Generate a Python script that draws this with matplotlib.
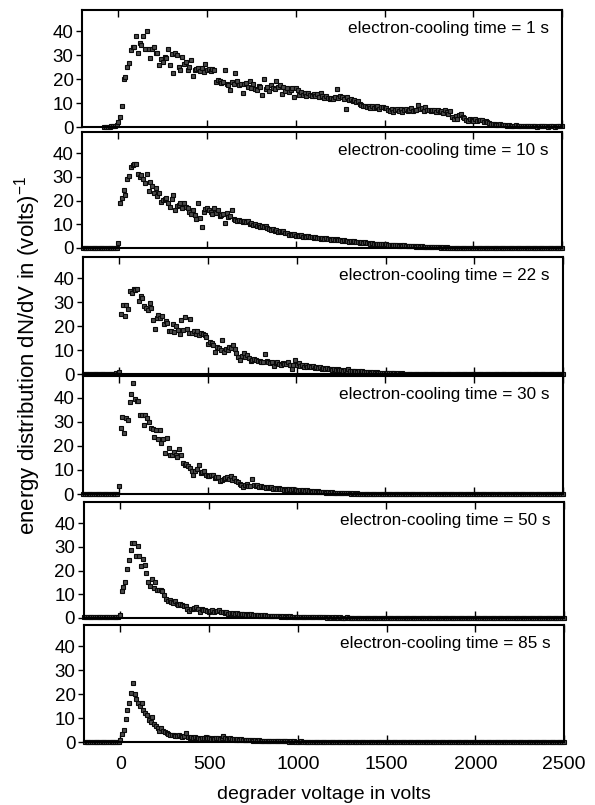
import numpy as np
import matplotlib
matplotlib.use("Agg")
import matplotlib.pyplot as plt

plt.rcParams['font.family'] = ['Liberation Sans', 'DejaVu Sans']
plt.rcParams['mathtext.fontset'] = 'custom'
plt.rcParams['mathtext.rm'] = 'Liberation Sans'
plt.rcParams['mathtext.it'] = 'Liberation Sans:italic'

# degrader voltage scan, 10 V steps from -200 V to 2500 V
volts = np.arange(-200, 2501, 10)
nan = np.nan

cooling_times = [1, 10, 22, 30, 50, 85]

counts_1s = [
    nan, nan, nan, nan, nan, nan, nan, nan, nan, nan,
    nan, nan, 0.1, 0.1, 0.2, 0.2, 0.3, 0.3, 0.4, 0.8,
    2.1, 4.2, 8.8, 19.9, 21.0, 25.0, 26.7, 32.3, 33.7, 33.7,
    38.3, 30.9, 35.0, 34.4, 38.2, 32.6, 40.1, 32.6, 28.8, 32.6,
    33.4, 30.9, 30.9, 26.0, 28.4, 27.4, 29.2, 28.8, 32.6, 26.0,
    30.5, 22.7, 31.2, 30.2, 25.3, 23.9, 29.2, 26.5, 27.4, 23.9,
    25.0, 28.0, 21.3, 23.9, 24.1, 24.5, 23.6, 24.8, 23.2, 26.4,
    23.8, 24.2, 23.5, 24.1, 24.0, 19.0, 19.5, 19.2, 18.4, 18.9,
    24.0, 18.2, 17.6, 15.4, 18.8, 17.9, 22.5, 19.2, 17.5, 18.1,
    14.3, 17.8, 18.6, 16.9, 19.2, 16.4, 17.8, 16.1, 15.5, 17.2,
    16.8, 13.6, 20.0, 15.9, 16.7, 15.2, 17.4, 16.3, 15.8, 19.2,
    16.9, 17.5, 14.0, 16.8, 15.1, 16.2, 14.6, 15.4, 16.4, 12.4,
    16.2, 15.7, 13.3, 14.5, 13.2, 14.1, 12.8, 14.3, 13.6, 12.9,
    14.0, 13.1, 13.7, 12.5, 14.2, 13.0, 12.1, 12.8, 12.0, 11.6,
    12.3, 11.8, 12.6, 15.9, 12.2, 12.9, 12.4, 11.6, 7.4, 12.5,
    11.2, 11.6, 10.8, 11.4, 10.5, 11.0, 9.8, 9.2, 8.7, 8.6,
    8.4, 8.9, 8.1, 8.6, 7.9, 8.3, 8.8, 7.6, 8.2, 8.5,
    7.8, 8.1, 7.2, 6.6, 7.4, 6.3, 7.0, 7.7, 6.8, 7.5,
    6.3, 7.1, 7.6, 6.9, 7.3, 7.8, 6.6, 7.2, 7.0, 9.4,
    7.4, 7.9, 6.9, 8.2, 7.1, 7.3, 6.5, 7.0, 7.2, 6.4,
    7.3, 6.2, 6.9, 5.8, 7.0, 6.3, 5.5, 6.8, 4.2, 3.5,
    4.6, 3.3, 4.9, 5.6, 4.1, 3.8, 3.0, 2.6, 3.4, 2.9,
    2.7, 3.2, 2.5, 2.9, 2.8, 3.1, 2.2, 2.6, 2.0, 1.6,
    1.2, 1.4, 1.1, 0.9, 1.0, 1.2, 0.8, 0.9, 0.7, 0.6,
    0.8, 0.5, 0.6, 0.4, 0.7, 0.5, 0.4, 0.6, 0.3, 0.5,
    0.4, 0.3, 0.5, 0.4, 0.3, 0.4, 0.2, 0.5, 0.3, 0.4,
    0.3, 0.4, 0.2, 0.3, 0.4, 0.3, 0.2, 0.4, 0.3, 0.3,
    0.3,
]

counts_10s = [
    0.0, 0.0, 0.0, 0.0, 0.0, 0.0, 0.0, 0.0, 0.0, 0.0,
    0.0, 0.0, 0.0, 0.0, 0.0, 0.0, 0.0, 0.0, 0.0, 0.0,
    2.1, 19.2, 21.0, 24.6, 22.5, 29.0, 30.5, 34.4, 35.1, 35.4,
    35.5, 31.3, 30.2, 30.9, 29.0, 27.4, 31.3, 23.9, 28.0, 26.2,
    23.4, 25.3, 21.8, 23.4, 19.6, 20.4, 20.6, 21.0, 18.9, 17.3,
    20.6, 22.5, 16.1, 17.8, 18.2, 18.9, 17.0, 19.2, 17.5, 16.8,
    15.4, 14.5, 16.1, 13.8, 12.2, 18.9, 12.6, 8.8, 15.0, 16.4,
    16.8, 15.9, 15.4, 14.5, 16.8, 14.7, 16.1, 13.6, 14.0, 14.5,
    10.5, 14.7, 13.2, 13.6, 16.1, 12.4, 11.8, 11.2, 12.0, 11.4,
    10.9, 11.6, 10.8, 11.3, 10.2, 10.4, 9.6, 10.1, 9.2, 9.8,
    9.0, 9.5, 8.8, 9.3, 8.6, 8.1, 7.6, 7.9, 7.1, 7.5,
    6.9, 7.3, 6.8, 7.0, 6.5, 6.2, 5.6, 6.0, 5.3, 5.8,
    5.1, 5.6, 5.0, 5.4, 4.8, 5.2, 4.7, 5.0, 4.5, 4.8,
    4.3, 4.6, 4.1, 4.4, 3.9, 4.3, 3.8, 4.1, 3.6, 4.0,
    3.5, 3.8, 3.3, 3.7, 3.2, 3.5, 3.0, 3.3, 2.9, 3.1,
    2.7, 3.0, 2.6, 2.8, 2.4, 2.7, 2.3, 2.5, 2.1, 2.4,
    2.0, 2.2, 1.9, 2.1, 1.8, 1.9, 1.6, 1.8, 1.5, 1.7,
    1.4, 1.5, 1.3, 1.4, 1.2, 1.3, 1.1, 1.2, 1.0, 1.2,
    0.9, 1.1, 0.9, 1.0, 0.8, 0.9, 0.7, 0.8, 0.6, 0.8,
    0.6, 0.7, 0.5, 0.6, 0.5, 0.5, 0.4, 0.5, 0.3, 0.4,
    0.3, 0.4, 0.2, 0.3, 0.2, 0.3, 0.2, 0.2, 0.1, 0.2,
    0.1, 0.1, 0.1, 0.2, 0.1, 0.1, 0.1, 0.1, 0.0, 0.1,
    0.1, 0.0, 0.1, 0.1, 0.0, 0.1, 0.0, 0.1, 0.0, 0.0,
    0.1, 0.0, 0.0, 0.1, 0.0, 0.0, 0.1, 0.0, 0.0, 0.0,
    0.0, 0.1, 0.0, 0.0, 0.0, 0.1, 0.0, 0.0, 0.0, 0.0,
    0.0, 0.0, 0.0, 0.1, 0.0, 0.0, 0.0, 0.0, 0.0, 0.0,
    0.0, 0.0, 0.0, 0.0, 0.0, 0.0, 0.1, 0.0, 0.0, 0.0,
    0.0,
]

counts_22s = [
    0.2, 0.1, 0.2, 0.2, 0.1, 0.2, 0.2, 0.1, 0.2, 0.2,
    0.2, 0.1, 0.2, 0.2, 0.1, 0.2, 0.2, 0.2, 0.3, 0.3,
    1.0, 25.3, 29.0, 24.1, 29.0, 27.4, 34.9, 34.0, 35.4, 35.1,
    35.4, 30.7, 32.8, 31.9, 28.4, 27.6, 26.9, 29.8, 27.6, 22.7,
    18.9, 23.4, 24.8, 23.4, 24.4, 20.9, 22.0, 21.3, 17.8, 18.1,
    20.9, 17.4, 19.9, 18.6, 16.7, 22.5, 18.5, 23.7, 18.9, 17.1,
    23.2, 17.0, 18.1, 16.9, 17.8, 16.4, 17.1, 16.6, 16.4, 15.3,
    12.5, 13.6, 13.0, 12.2, 9.4, 11.5, 11.0, 10.1, 14.3, 9.4,
    10.6, 10.1, 11.1, 10.8, 12.2, 10.5, 9.0, 7.3, 5.9, 7.5,
    8.7, 7.2, 8.0, 6.6, 5.5, 6.0, 6.3, 5.8, 5.5, 5.6,
    4.9, 5.1, 8.4, 5.4, 4.9, 4.6, 5.0, 3.4, 4.4, 5.2,
    4.2, 3.9, 4.5, 4.0, 4.3, 4.9, 3.8, 2.0, 3.7, 5.9,
    3.9, 4.5, 3.4, 3.8, 3.1, 3.6, 2.9, 3.3, 2.8, 3.2,
    2.5, 2.9, 2.4, 2.8, 2.2, 2.6, 2.0, 2.4, 1.9, 2.3,
    1.8, 2.1, 1.7, 2.0, 1.5, 1.8, 1.4, 1.7, 1.3, 2.2,
    1.2, 1.4, 1.1, 1.3, 1.0, 1.2, 0.9, 1.1, 0.8, 1.0,
    0.7, 0.9, 0.6, 0.8, 0.5, 0.7, 0.5, 0.6, 0.4, 0.5,
    0.4, 0.5, 0.3, 0.4, 0.3, 0.4, 0.2, 0.3, 0.2, 0.3,
    0.2, 0.2, 0.1, 0.2, 0.1, 0.2, 0.1, 0.1, 0.1, 0.1,
    0.1, 0.1, 0.0, 0.1, 0.1, 0.0, 0.1, 0.0, 0.1, 0.0,
    0.1, 0.0, 0.0, 0.1, 0.0, 0.0, 0.1, 0.0, 0.0, 0.0,
    0.0, 0.1, 0.0, 0.0, 0.0, 0.1, 0.0, 0.0, 0.0, 0.0,
    0.0, 0.0, 0.0, 0.1, 0.0, 0.0, 0.0, 0.0, 0.0, 0.0,
    0.0, 0.0, 0.0, 0.0, 0.0, 0.0, 0.0, 0.0, 0.0, 0.0,
    0.0, 0.0, 0.0, 0.0, 0.0, 0.0, 0.0, 0.0, 0.0, 0.0,
    0.0, 0.0, 0.0, 0.0, 0.0, 0.0, 0.0, 0.0, 0.0, 0.0,
    0.0, 0.0, 0.0, 0.0, 0.0, 0.0, 0.0, 0.0, 0.0, 0.0,
    0.0,
]

counts_30s = [
    0.0, 0.0, 0.0, 0.0, 0.0, 0.0, 0.0, 0.0, 0.0, 0.0,
    0.0, 0.0, 0.0, 0.0, 0.0, 0.0, 0.0, 0.0, 0.0, 0.0,
    3.4, 27.4, 32.1, 25.3, 31.4, 30.9, 38.2, 41.7, 46.2, 39.6,
    38.6, 38.6, 32.8, 32.6, 28.8, 32.6, 31.4, 29.8, 27.6, 26.9,
    23.7, 26.5, 23.0, 26.5, 21.0, 22.7, 17.1, 23.4, 19.2, 16.4,
    16.0, 17.4, 16.4, 15.3, 18.8, 16.0, 12.9, 11.9, 12.3, 11.5,
    10.8, 9.6, 8.0, 9.7, 10.4, 11.9, 8.7, 9.0, 9.4, 8.0,
    7.6, 7.3, 7.7, 8.0, 6.6, 7.1, 6.9, 5.5, 6.0, 6.2,
    6.6, 7.0, 6.4, 7.3, 6.0, 6.6, 5.4, 4.8, 4.3, 3.8,
    3.1, 3.6, 4.1, 3.5, 3.3, 6.3, 3.8, 3.2, 3.6, 2.9,
    3.3, 2.7, 3.1, 2.5, 2.9, 2.3, 2.7, 2.1, 2.5, 2.0,
    2.4, 1.9, 2.2, 1.8, 2.1, 1.7, 2.0, 1.6, 1.9, 1.5,
    1.8, 1.4, 1.7, 1.3, 1.6, 1.2, 1.5, 1.1, 1.4, 1.0,
    1.3, 0.9, 1.2, 0.8, 1.0, 0.7, 0.9, 0.6, 0.8, 0.6,
    0.7, 0.5, 0.6, 0.4, 0.5, 0.4, 0.5, 0.3, 0.4, 0.3,
    0.4, 0.2, 0.3, 0.2, 0.3, 0.2, 0.2, 0.1, 0.2, 0.1,
    0.1, 0.1, 0.1, 0.0, 0.1, 0.1, 0.0, 0.1, 0.0, 0.1,
    0.0, 0.1, 0.0, 0.0, 0.1, 0.0, 0.0, 0.0, 0.1, 0.0,
    0.0, 0.0, 0.0, 0.0, 0.0, 0.1, 0.0, 0.0, 0.0, 0.0,
    0.0, 0.0, 0.0, 0.0, 0.0, 0.0, 0.0, 0.0, 0.0, 0.0,
    0.0, 0.0, 0.0, 0.0, 0.0, 0.0, 0.0, 0.0, 0.0, 0.0,
    0.0, 0.0, 0.0, 0.0, 0.0, 0.0, 0.0, 0.0, 0.0, 0.0,
    0.0, 0.0, 0.0, 0.0, 0.0, 0.0, 0.0, 0.0, 0.0, 0.0,
    0.0, 0.0, 0.0, 0.0, 0.0, 0.0, 0.0, 0.0, 0.0, 0.0,
    0.0, 0.0, 0.0, 0.0, 0.0, 0.0, 0.0, 0.0, 0.0, 0.0,
    0.0, 0.0, 0.0, 0.0, 0.0, 0.0, 0.0, 0.0, 0.0, 0.0,
    0.0, 0.0, 0.0, 0.0, 0.0, 0.0, 0.0, 0.0, 0.0, 0.0,
    0.0,
]

counts_50s = [
    0.3, 0.4, 0.3, 0.4, 0.3, 0.4, 0.3, 0.4, 0.3, 0.4,
    0.3, 0.4, 0.3, 0.4, 0.3, 0.4, 0.3, 0.4, 0.3, 0.4,
    1.1, 11.2, 13.0, 15.0, 20.8, 24.6, 28.8, 31.6, 31.6, 26.2,
    30.5, 26.0, 22.0, 24.8, 22.5, 18.9, 15.4, 13.6, 16.4, 12.6,
    15.0, 11.9, 11.9, 11.9, 11.2, 9.8, 8.0, 7.0, 7.7, 6.9,
    6.3, 7.0, 6.1, 5.6, 6.0, 5.5, 5.2, 4.9, 4.0, 3.1,
    3.8, 4.0, 4.2, 4.6, 3.6, 2.5, 3.8, 3.3, 3.5, 3.0,
    2.4, 3.0, 3.5, 2.7, 2.8, 3.1, 3.5, 2.4, 2.7, 2.1,
    2.5, 1.9, 2.3, 1.8, 2.2, 1.7, 2.1, 1.6, 1.9, 1.5,
    1.8, 1.4, 1.7, 1.3, 1.6, 1.2, 1.4, 1.1, 1.3, 1.0,
    1.2, 0.9, 1.1, 0.8, 1.0, 0.8, 0.9, 0.7, 0.9, 0.7,
    0.8, 0.6, 0.8, 0.6, 0.7, 0.5, 0.7, 0.5, 0.6, 0.5,
    0.6, 0.4, 0.5, 0.4, 0.5, 0.4, 0.5, 0.3, 0.4, 0.3,
    0.4, 0.3, 0.4, 0.3, 0.3, 0.3, 0.4, 0.2, 0.3, 0.2,
    0.3, 0.2, 0.3, 0.2, 0.3, 0.2, 0.2, 0.2, 0.3, 0.2,
    0.2, 0.2, 0.2, 0.1, 0.2, 0.2, 0.1, 0.2, 0.1, 0.2,
    0.1, 0.2, 0.1, 0.1, 0.2, 0.1, 0.1, 0.1, 0.2, 0.1,
    0.1, 0.1, 0.1, 0.1, 0.1, 0.2, 0.1, 0.1, 0.1, 0.1,
    0.1, 0.1, 0.1, 0.1, 0.1, 0.1, 0.1, 0.1, 0.1, 0.1,
    0.1, 0.1, 0.1, 0.1, 0.1, 0.1, 0.1, 0.1, 0.1, 0.1,
    0.1, 0.1, 0.1, 0.1, 0.1, 0.1, 0.1, 0.1, 0.1, 0.1,
    0.1, 0.1, 0.1, 0.1, 0.1, 0.1, 0.1, 0.1, 0.1, 0.1,
    0.1, 0.1, 0.1, 0.1, 0.1, 0.1, 0.1, 0.1, 0.1, 0.1,
    0.1, 0.1, 0.1, 0.1, 0.1, 0.1, 0.1, 0.1, 0.1, 0.1,
    0.1, 0.1, 0.1, 0.1, 0.1, 0.1, 0.1, 0.1, 0.1, 0.1,
    0.1, 0.1, 0.1, 0.1, 0.1, 0.1, 0.1, 0.1, 0.1, 0.1,
    0.1, 0.1, 0.1, 0.1, 0.1, 0.1, 0.1, 0.1, 0.1, 0.1,
    0.1,
]

counts_85s = [
    0.2, 0.1, 0.2, 0.2, 0.1, 0.2, 0.2, 0.1, 0.2, 0.2,
    0.2, 0.1, 0.2, 0.2, 0.1, 0.2, 0.2, 0.1, 0.2, 0.2,
    1.0, 3.4, 5.2, 9.7, 13.6, 16.4, 20.6, 24.8, 20.2, 17.8,
    16.4, 15.0, 16.4, 13.6, 12.2, 11.5, 9.4, 8.4, 10.4, 7.6,
    6.6, 6.0, 4.8, 5.9, 4.5, 4.2, 3.6, 3.4, 2.8, 3.0,
    3.1, 2.6, 2.4, 2.8, 2.6, 2.0, 2.7, 3.8, 2.2, 1.8,
    1.9, 1.6, 2.0, 1.5, 1.8, 1.4, 1.7, 1.6, 1.9, 1.5,
    1.7, 1.4, 1.6, 1.3, 1.5, 1.6, 1.4, 1.8, 2.4, 1.5,
    1.4, 1.2, 1.5, 1.1, 1.3, 1.0, 1.2, 0.9, 1.1, 0.8,
    1.0, 0.7, 0.9, 0.7, 0.8, 0.6, 0.8, 0.5, 0.7, 0.5,
    0.6, 0.4, 0.6, 0.4, 0.5, 0.4, 0.5, 0.3, 0.4, 0.3,
    0.4, 0.3, 0.4, 0.3, 0.3, 0.2, 0.3, 0.2, 0.3, 0.2,
    0.2, 0.2, 0.3, 0.2, 0.2, 0.1, 0.2, 0.2, 0.1, 0.2,
    0.2, 0.1, 0.2, 0.1, 0.1, 0.2, 0.1, 0.1, 0.2, 0.1,
    0.1, 0.1, 0.2, 0.1, 0.1, 0.1, 0.1, 0.2, 0.1, 0.1,
    0.1, 0.1, 0.1, 0.1, 0.1, 0.1, 0.1, 0.1, 0.1, 0.1,
    0.1, 0.1, 0.1, 0.1, 0.1, 0.1, 0.1, 0.1, 0.1, 0.1,
    0.1, 0.1, 0.1, 0.1, 0.1, 0.1, 0.1, 0.1, 0.1, 0.1,
    0.1, 0.1, 0.1, 0.1, 0.1, 0.1, 0.1, 0.1, 0.1, 0.1,
    0.1, 0.1, 0.1, 0.1, 0.1, 0.1, 0.1, 0.1, 0.1, 0.1,
    0.1, 0.1, 0.1, 0.1, 0.1, 0.1, 0.1, 0.1, 0.1, 0.1,
    0.1, 0.1, 0.1, 0.1, 0.1, 0.1, 0.1, 0.1, 0.1, 0.1,
    0.1, 0.1, 0.1, 0.1, 0.1, 0.1, 0.1, 0.1, 0.1, 0.1,
    0.1, 0.1, 0.1, 0.1, 0.1, 0.1, 0.1, 0.1, 0.1, 0.1,
    0.1, 0.1, 0.1, 0.1, 0.1, 0.1, 0.1, 0.1, 0.1, 0.1,
    0.1, 0.1, 0.1, 0.1, 0.1, 0.1, 0.1, 0.1, 0.1, 0.1,
    0.1, 0.1, 0.1, 0.1, 0.1, 0.1, 0.1, 0.1, 0.1, 0.1,
    0.1,
]

all_counts = [counts_1s, counts_10s, counts_22s, counts_30s, counts_50s, counts_85s]
for c in all_counts:
    if len(c) != len(volts):
        raise ValueError("length %d" % len(c))

# panel frames in pixels (the panels were pasted together, so they are a bit uneven)
W, H = 595, 805
tops = [10, 132, 257, 376, 502, 625]
bottoms = [127, 248, 374, 494, 618, 742]
lefts = [82, 82, 83, 82.5, 83.5, 84]
panel_w = 480

fig = plt.figure(figsize=(W / 100, H / 100), dpi=100)

axes = []
for i in range(6):
    ax = fig.add_axes([lefts[i] / W, 1 - bottoms[i] / H, panel_w / W, (bottoms[i] - tops[i]) / H])
    ax.plot(volts, all_counts[i], 's', ms=3.2, mfc='#4a4a4a', mec='#0a0a0a', mew=0.8, clip_on=False)
    ax.set_xlim(-205, 2500)
    ax.set_ylim(0, 49)
    ax.set_xticks([0, 500, 1000, 1500, 2000, 2500])
    ax.set_yticks([0, 10, 20, 30, 40])
    ax.tick_params(axis='x', direction='in', top=True, bottom=True, length=5, width=1, labelsize=14, pad=10)
    ax.tick_params(axis='y', direction='out', left=True, right=False, length=4, width=1, labelsize=13.5, pad=2)
    for s in ax.spines.values():
        s.set_linewidth(1.5)
    if i < 5:
        ax.set_xticklabels([])
    ax.text(0.972, 0.84, "electron-cooling time = %d s" % cooling_times[i],
            transform=ax.transAxes, ha='right', va='center', fontsize=12.3)
    axes.append(ax)

fig.text(28 / W, 1 - 355 / H, "energy distribution dN/dV in (volts)$^{-1}$",
         rotation=90, ha='center', va='center', fontsize=16)
fig.text(324 / W, 1 - 794 / H, "degrader voltage in volts", ha='center', va='center', fontsize=14)

fig.savefig("out.png", dpi=100)
